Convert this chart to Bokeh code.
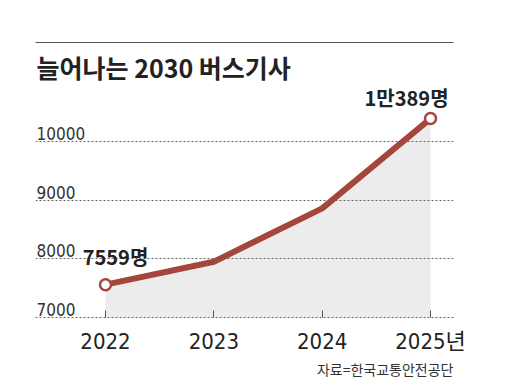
from bokeh.plotting import figure
from bokeh.models import Range1d, FixedTicker, LinearAxis, Label, Title
from bokeh.embed import file_html
from bokeh.resources import INLINE
from bokeh.core.properties import value

# ---- data ----
years = [2022, 2023, 2024, 2025]
drivers = [7559, 7950, 8860, 10389]
year_labels = ["2022", "2023", "2024", "2025년"]
y_ticks = [7000, 8000, 9000, 10000]
y_tick_labels = ["7000", "8000", "9000", "10000"]
callout_text = ["7559명", "1만389명"]
title_text = "늘어나는 2030 버스기사"
source_text = "자료=한국교통안전공단"

KR = "Noto Sans CJK KR"
NARROW = "DejaVu Sans Condensed, Roboto, Noto Sans CJK KR"
LINE_COLOR = "#a5463c"
GRID_COLOR = "#666666"

x_start, x_end = 2021.354, 2025.212
y_start, y_end = 7000, 11685

p = figure(width=520, height=387, output_backend="svg", toolbar_location=None,
           x_range=Range1d(x_start, x_end), y_range=Range1d(y_start, y_end),
           x_axis_location=None, y_axis_location=None,
           min_border_left=35, min_border_right=67, min_border_top=42, min_border_bottom=70)
p.outline_line_color = None
p.background_fill_color = "white"
p.border_fill_color = "white"

# top rule
top = LinearAxis(ticker=FixedTicker(ticks=[]), major_label_text_font_size="0px",
                 major_tick_line_color=None, minor_tick_line_color=None,
                 axis_line_color="#555555", axis_line_width=1, major_label_standoff=0,
                 major_tick_out=0, major_tick_in=0)
p.add_layout(top, "above")

# bottom axis
xa = LinearAxis(ticker=FixedTicker(ticks=years))
xa.major_label_overrides = {yr: lab for yr, lab in zip(years, year_labels)}
xa.major_tick_in = 7
xa.major_tick_out = 0
xa.minor_tick_line_color = None
xa.major_tick_line_color = "#555555"
xa.axis_line_color = GRID_COLOR
xa.axis_line_dash = "2 2"
xa.major_label_text_font = NARROW
xa.major_label_text_font_size = "22px"
xa.major_label_text_color = "#222222"
xa.major_label_standoff = 11
p.add_layout(xa, "below")

p.xgrid.visible = False
p.ygrid.ticker = FixedTicker(ticks=y_ticks[1:])
p.ygrid.grid_line_color = GRID_COLOR
p.ygrid.grid_line_dash = "2 2"

# area + line
p.varea(x=years, y1=[y_ticks[0]] * len(years), y2=drivers, fill_color="#ececec", level="underlay")
p.line(years, drivers, line_color=LINE_COLOR, line_width=6, line_join="round", line_cap="round")
p.scatter([years[0], years[-1]], [drivers[0], drivers[-1]], size=11, fill_color="white",
          line_color=LINE_COLOR, line_width=2.5)

# y tick labels
p.text(x=[x_start] * len(y_ticks), y=y_ticks, text=y_tick_labels, x_offset=1, y_offset=-8,
       text_align="left", text_baseline="alphabetic", text_font=value(NARROW),
       text_font_size="17px", text_color="#333333")

# callouts
p.text(x=[years[0]], y=[drivers[0]], text=[callout_text[0]], x_offset=10, y_offset=-28,
       text_align="center", text_baseline="middle", text_font=value(KR),
       text_font_style="bold", text_font_size="20px", text_color="#222222")
p.text(x=[years[-1]], y=[drivers[-1]], text=[callout_text[1]], x_offset=-24, y_offset=-21,
       text_align="center", text_baseline="middle", text_font=value(KR),
       text_font_style="bold", text_font_size="20px", text_color="#222222")

# title
p.add_layout(Label(x=1, y=251, x_units="screen", y_units="screen", text=title_text,
                   text_font=KR, text_font_style="bold", text_font_size="25px",
                   text_color="#222222", text_baseline="middle"))
# source
p.add_layout(Title(text=source_text, align="right", text_font=KR, text_font_size="14px",
                   text_font_style="normal", text_color="#333333", standoff=0), "below")

open("out.html", "w").write(file_html(p, INLINE))
